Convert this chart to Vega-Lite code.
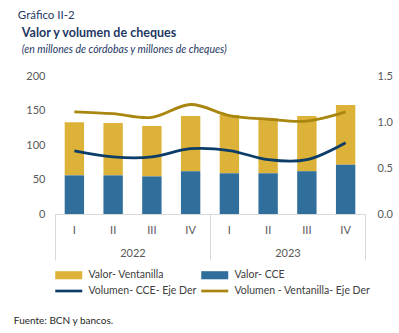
{
  "$schema": "https://vega.github.io/schema/vega-lite/v6.json",
  "padding": {"left": 13, "top": 9, "right": 5, "bottom": 5},
  "config": {
    "view": {"stroke": null},
    "font": "Lato",
    "axis": {"labelFont": "Lato", "labelColor": "#595959", "labelFontSize": 11},
    "legend": {"labelFont": "Lato", "labelColor": "#404040", "labelFontSize": 11}
  },
  "datasets": {
    "barras": [
      {"key": "2022-I", "serie": "Valor- Ventanilla", "valor": 77, "orden": 2},
      {"key": "2022-II", "serie": "Valor- Ventanilla", "valor": 76, "orden": 2},
      {"key": "2022-III", "serie": "Valor- Ventanilla", "valor": 73, "orden": 2},
      {"key": "2022-IV", "serie": "Valor- Ventanilla", "valor": 80, "orden": 2},
      {"key": "2023-I", "serie": "Valor- Ventanilla", "valor": 84.5, "orden": 2},
      {"key": "2023-II", "serie": "Valor- Ventanilla", "valor": 79.7, "orden": 2},
      {"key": "2023-III", "serie": "Valor- Ventanilla", "valor": 80, "orden": 2},
      {"key": "2023-IV", "serie": "Valor- Ventanilla", "valor": 86.5, "orden": 2},
      {"key": "2022-I", "serie": "Valor- CCE", "valor": 56, "orden": 1},
      {"key": "2022-II", "serie": "Valor- CCE", "valor": 56, "orden": 1},
      {"key": "2022-III", "serie": "Valor- CCE", "valor": 54.5, "orden": 1},
      {"key": "2022-IV", "serie": "Valor- CCE", "valor": 62, "orden": 1},
      {"key": "2023-I", "serie": "Valor- CCE", "valor": 59, "orden": 1},
      {"key": "2023-II", "serie": "Valor- CCE", "valor": 59, "orden": 1},
      {"key": "2023-III", "serie": "Valor- CCE", "valor": 62, "orden": 1},
      {"key": "2023-IV", "serie": "Valor- CCE", "valor": 71.5, "orden": 1}
    ],
    "lineas": [
      {"key": "2022-I", "serie": "Volumen- CCE- Eje Der", "vol": 0.685},
      {"key": "2022-II", "serie": "Volumen- CCE- Eje Der", "vol": 0.62},
      {"key": "2022-III", "serie": "Volumen- CCE- Eje Der", "vol": 0.62},
      {"key": "2022-IV", "serie": "Volumen- CCE- Eje Der", "vol": 0.71},
      {"key": "2023-I", "serie": "Volumen- CCE- Eje Der", "vol": 0.69},
      {"key": "2023-II", "serie": "Volumen- CCE- Eje Der", "vol": 0.59},
      {"key": "2023-III", "serie": "Volumen- CCE- Eje Der", "vol": 0.59},
      {"key": "2023-IV", "serie": "Volumen- CCE- Eje Der", "vol": 0.775},
      {"key": "2022-I", "serie": "Volumen - Ventanilla- Eje Der", "vol": 1.11},
      {"key": "2022-II", "serie": "Volumen - Ventanilla- Eje Der", "vol": 1.09},
      {"key": "2022-III", "serie": "Volumen - Ventanilla- Eje Der", "vol": 1.05},
      {"key": "2022-IV", "serie": "Volumen - Ventanilla- Eje Der", "vol": 1.19},
      {"key": "2023-I", "serie": "Volumen - Ventanilla- Eje Der", "vol": 1.07},
      {"key": "2023-II", "serie": "Volumen - Ventanilla- Eje Der", "vol": 1.03},
      {"key": "2023-III", "serie": "Volumen - Ventanilla- Eje Der", "vol": 1.01},
      {"key": "2023-IV", "serie": "Volumen - Ventanilla- Eje Der", "vol": 1.11}
    ],
    "anios": [{"year": "2022"}, {"year": "2023"}]
  },
  "title": {"text": "Fuente: BCN y bancos.", "orient": "bottom", "anchor": "start", "fontSize": 10, "fontWeight": "normal", "color": "#262626", "font": "Lato", "offset": 19, "dx": -4},
  "vconcat": [
    {
      "title": {"text": "Gráfico II-2", "anchor": "start", "fontSize": 11.5, "fontWeight": "normal", "color": "#1F3864", "font": "Lato", "dx": -4, "offset": 6},
      "vconcat": [
        {
          "title": {"text": "Valor y volumen de cheques", "subtitle": "(en millones de córdobas y millones de cheques)", "anchor": "start", "fontSize": 12.5, "fontWeight": "bold", "color": "#1F3864", "font": "Lato", "subtitleFont": "Lato", "subtitleFontStyle": "italic", "subtitleFontSize": 10.5, "subtitleColor": "#1F3864", "dx": -4, "offset": 15, "subtitlePadding": 5},
          "width": 310,
          "height": 138,
          "layer": [
            {
              "layer": [
                {
                  "data": {"name": "barras"},
                  "mark": {"type": "bar"},
                  "encoding": {
                    "x": {"field": "key", "type": "nominal", "sort": null,
                      "scale": {"paddingInner": 0.5, "paddingOuter": 0.25},
                      "axis": {"title": null, "orient": "bottom", "labelAngle": 0, "labelExpr": "split(datum.value,'-')[1]", "ticks": false, "tickSize": 0, "labelPadding": 10, "domainColor": "#d9d9d9", "domainWidth": 1}},
                    "y": {"field": "valor", "type": "quantitative", "stack": "zero",
                      "scale": {"domain": [0, 200]},
                      "axis": {"title": null, "values": [0, 50, 100, 150, 200], "domain": false, "ticks": false, "grid": false, "labelPadding": 10}},
                    "color": {"field": "serie", "type": "nominal",
                      "scale": {"domain": ["Valor- Ventanilla", "Valor- CCE", "Volumen- CCE- Eje Der", "Volumen - Ventanilla- Eje Der"], "range": ["#DDB238", "#306E9B", "#0C3C68", "#A8860F"]},
                      "legend": {"title": null, "orient": "bottom", "direction": "horizontal", "columns": 2, "symbolSize": 182, "columnPadding": 4, "rowPadding": 3, "labelOffset": 19.5, "offset": 7, "labelLimit": 300, "labelFontSize": 10.5,
                        "encode": {"symbols": {"update": {
                          "shape": {"signal": "indexof(datum.value,'Valor')===0 ? 'M-1,-0.6H3V0.6H-1Z' : 'M-1,-0.2H3V0.2H-1Z'"},
                          "fill": {"scale": "color", "field": "value"},
                          "strokeWidth": {"value": 0},
                          "opacity": {"value": 1}
                        }}}}},
                    "order": {"field": "orden", "type": "quantitative"}
                  }
                },
                {
                  "data": {"name": "lineas"},
                  "mark": {"type": "line", "interpolate": "cardinal", "strokeWidth": 2.8},
                  "encoding": {
                    "x": {"field": "key", "type": "nominal", "sort": null},
                    "y": {"field": "vol", "type": "quantitative",
                      "scale": {"domain": [0, 1.5]},
                      "axis": {"title": null, "orient": "right", "values": [0, 0.5, 1, 1.5], "format": ".1f", "domain": false, "ticks": false, "grid": false, "labelPadding": 12}},
                    "color": {"field": "serie", "type": "nominal"}
                  }
                }
              ],
              "resolve": {"scale": {"y": "independent"}}
            },
            {
              "data": {"name": "anios"},
              "mark": {"type": "point", "opacity": 0},
              "encoding": {
                "x": {"field": "year", "type": "nominal",
                  "scale": {"paddingInner": 0, "paddingOuter": 0},
                  "axis": {"title": null, "orient": "bottom", "labelAngle": 0, "domain": false, "tickBand": "extent", "tickSize": 46, "tickColor": "#d9d9d9", "tickWidth": 1, "labelPadding": -13}}
              }
            }
          ],
          "resolve": {"scale": {"x": "independent"}, "axis": {"x": "independent"}}
        }
      ]
    }
  ]
}
